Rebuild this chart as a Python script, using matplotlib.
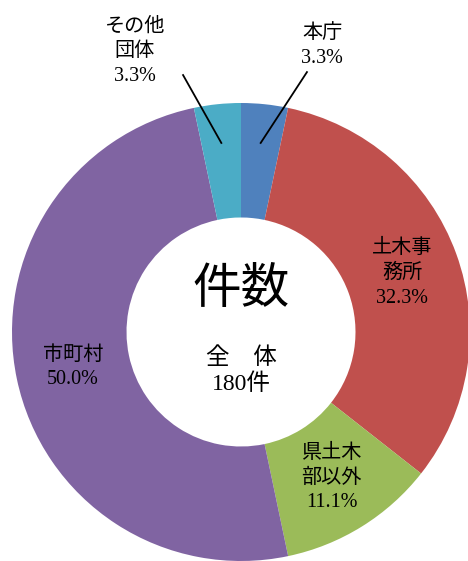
import matplotlib
matplotlib.use("Agg")
import matplotlib.pyplot as plt
import numpy as np

plt.rcParams['font.family'] = ['Liberation Serif', 'Noto Sans CJK JP']

# data (share of 180 cases, clockwise from top)
labels = ["本庁", "土木事\n務所", "県土木\n部以外", "市町村", "その他\n団体"]
shares = [3.3, 32.3, 11.1, 50.0, 3.3]
colors = ["#4F81BD", "#C0504D", "#9BBB59", "#8064A2", "#4BACC6"]
total = 180

fig = plt.figure(figsize=(4.68, 5.61), dpi=100)
ax = fig.add_axes([0, 0, 1, 1])

wedges, _ = ax.pie(shares, colors=colors, startangle=90, counterclock=False,
                   radius=1.0, wedgeprops=dict(width=0.5, linewidth=0))

# pie resets the limits, so set them afterwards
ax.set_xlim(-241 / 229, (468 - 241) / 229)
ax.set_ylim(-1.0, 332 / 229)
ax.set_aspect("equal")
ax.axis("off")

fs = 14.5
# labels for big slices, inside the ring
for i in (1, 2, 3):
    w = wedges[i]
    ang = np.deg2rad((w.theta1 + w.theta2) / 2)
    x, y = 0.75 * np.cos(ang), 0.75 * np.sin(ang)
    ax.text(x, y, labels[i] + "\n" + "%.1f%%" % shares[i], ha="center", va="center",
            fontsize=fs, linespacing=1.4)

# small slices: outside with leader lines
outside = {0: (0.354, 1.25, 0.288, 1.135), 4: (-0.463, 1.225, -0.253, 1.122)}
for i, (tx, ty, lx, ly) in outside.items():
    w = wedges[i]
    ang = np.deg2rad((w.theta1 + w.theta2) / 2)
    ex, ey = 0.83 * np.cos(ang), 0.83 * np.sin(ang)
    ax.plot([lx, ex], [ly, ey], color="black", lw=1.3)
    ax.text(tx, ty, labels[i] + "\n" + "%.1f%%" % shares[i], ha="center", va="center",
            fontsize=fs, linespacing=1.4)

# center text
ax.text(0, 0.18, "件数", ha="center", va="center", fontsize=35)
ax.text(0, -0.17, "全\u3000体\n%d件" % total, ha="center", va="center", fontsize=17,
        linespacing=1.25)

fig.savefig("out.png", dpi=100)
